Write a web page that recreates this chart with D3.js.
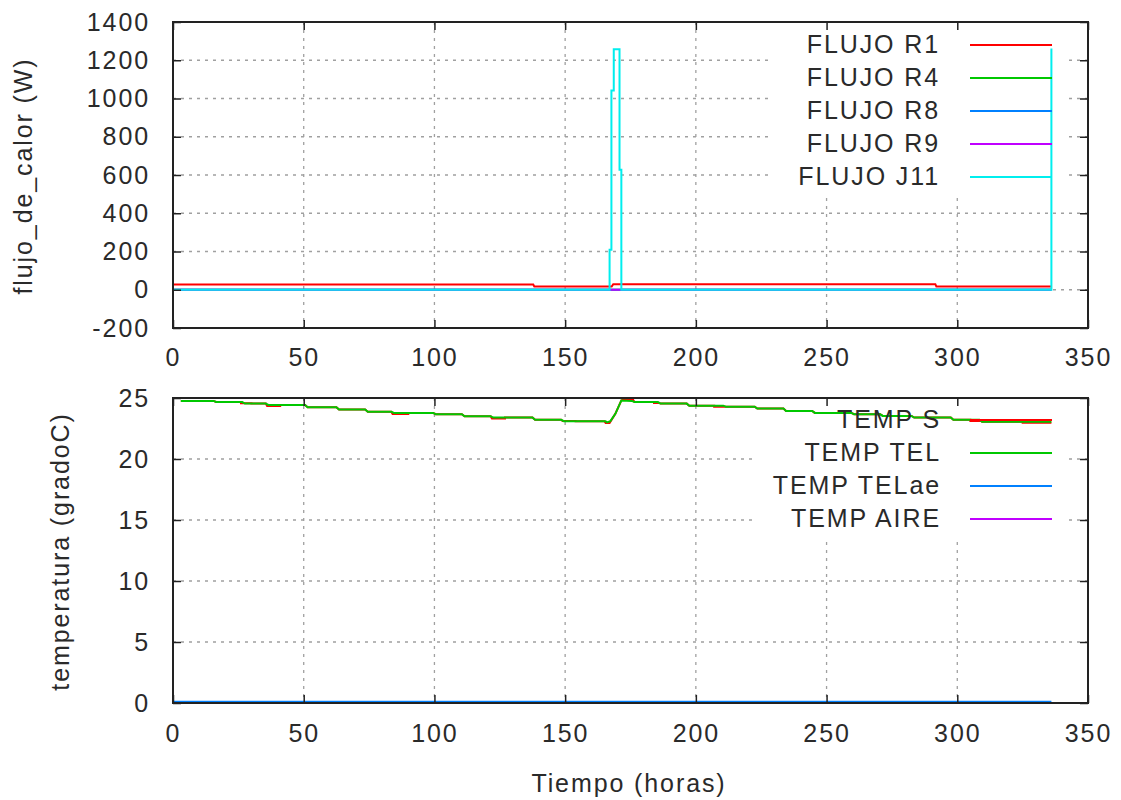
<!DOCTYPE html>
<html>
<head>
<meta charset="utf-8">
<script src="https://cdn.jsdelivr.net/npm/d3@7"></script>
<style>
body { margin: 0; background: #fff; }
text { font-family: "Liberation Sans", Arial, sans-serif; font-size: 25px; letter-spacing: 1.9px; fill: #2a2a2a; }
</style>
</head>
<body>
<svg></svg>
<script>
// x axis (hours) and tick labels
let xTicks = [0, 50, 100, 150, 200, 250, 300, 350];
let fluxTicks = [-200, 0, 200, 400, 600, 800, 1000, 1200, 1400];
let tempTicks = [0, 5, 10, 15, 20, 25];

// top panel: heat flux (W), pairs of [hour, value]
let fluxNames = ["FLUJO R1", "FLUJO R4", "FLUJO R8", "FLUJO R9", "FLUJO J11"];
let fluxR1 = [[0, 27], [137.8, 27], [138.2, 17], [167.8, 17], [168.4, 29], [291.6, 29], [292, 17], [336, 17]];
let fluxR4 = [[0, 0], [336, 0]];
let fluxR8 = [[0, 0], [336, 0]];
let fluxR9 = [[0, 0], [336, 0]];
let fluxJ11 = [[0, 0], [167.0, 0], [167.0, 209], [167.7, 209], [167.7, 1042], [168.6, 1042], [168.6, 1257],
    [170.8, 1257], [170.8, 628], [171.5, 628], [171.5, 0], [336, 0], [336, 1262]];

// bottom panel: temperatures (gradoC)
let tempNames = ["TEMP S", "TEMP TEL", "TEMP TELae", "TEMP AIRE"];
let tempS = [[3, 24.76], [15.5, 24.76], [16.5, 24.67], [26, 24.67], [26, 24.57], [30, 24.57], [30, 24.54], [35.5, 24.54],
    [36, 24.34], [41, 24.34], [41, 24.43], [50.5, 24.43], [51.5, 24.25], [62.5, 24.25], [63.5, 24.05], [73.5, 24.05],
    [74.5, 23.88], [83.5, 23.88], [84, 23.69], [90, 23.69], [90, 23.78], [99.5, 23.78], [100.5, 23.67], [110.5, 23.67],
    [111.5, 23.51], [121.5, 23.51], [122, 23.31], [127, 23.31], [127, 23.40], [137.5, 23.40], [138.5, 23.21], [148.5, 23.21],
    [149, 23.12], [154, 23.12], [154, 23.10], [165, 23.10], [165.5, 22.95], [167, 22.95], [169.2, 23.7], [171.5, 24.8],
    [172, 24.86], [176, 24.86], [176.5, 24.67], [184, 24.67], [184, 24.58], [186, 24.58], [186.5, 24.54], [196.5, 24.54],
    [197.5, 24.37], [207, 24.37], [207, 24.28], [211, 24.28], [211.5, 24.29], [222.5, 24.29], [223.5, 24.13], [233.5, 24.13],
    [234.5, 23.94], [244.5, 23.94], [245.5, 23.78], [255, 23.78], [255, 23.86], [259, 23.86], [259.5, 23.78], [260.5, 23.67],
    [270.5, 23.67], [271.5, 23.53], [282.5, 23.53], [283.5, 23.40], [297.5, 23.40], [298.5, 23.21], [305, 23.21],
    [305, 23.12], [309, 23.12], [309.5, 23.05], [325, 23.05], [325, 22.98], [336, 22.98]];
let tempTel = [[3, 24.76], [15.5, 24.76], [16.5, 24.67], [26.5, 24.67], [27.5, 24.54], [35.5, 24.54], [36.5, 24.43],
    [50.5, 24.43], [51.5, 24.25], [62.5, 24.25], [63.5, 24.05], [73.5, 24.05], [74.5, 23.88], [83.5, 23.88], [84.5, 23.78],
    [99.5, 23.78], [100.5, 23.67], [110.5, 23.67], [111.5, 23.51], [121.5, 23.51], [122.5, 23.40], [137.5, 23.40],
    [138.5, 23.21], [148.5, 23.21], [149.5, 23.10], [165.5, 23.10], [166, 23.0], [167.3, 23.1], [169.2, 23.7], [171.5, 24.8],
    [175.5, 24.76], [176.5, 24.67], [185.5, 24.67], [186.5, 24.54], [196.5, 24.54], [197.5, 24.37], [210.5, 24.37],
    [211.5, 24.29], [222.5, 24.29], [223.5, 24.13], [233.5, 24.13], [234.5, 23.94], [244.5, 23.94], [245.5, 23.78],
    [259.5, 23.78], [260.5, 23.67], [270.5, 23.67], [271.5, 23.53], [282.5, 23.53], [283.5, 23.40], [297.5, 23.40],
    [298.5, 23.21], [308.5, 23.21], [309.5, 23.05], [336, 23.05]];
let tempTelae = [[0, 0.1], [336, 0.1]];
let tempAire = [[0, 0], [336, 0]];

let colors = ["#ff0000", "#00c800", "#0080ff", "#c000ff", "#00eeee"];

let svg = d3.select("svg")
    .attr("width", 1121)
    .attr("height", 800);

svg.append("rect").attr("width", 1121).attr("height", 800).attr("fill", "#fff");

let x = d3.scaleLinear().domain([0, 350]).range([173, 1088]);
let plain = d => String(d); // gnuplot style: 1400, -200

function panel(opts) {
    let y = d3.scaleLinear().domain(opts.domain).range([opts.bottom, opts.top]);
    let g = svg.append("g");

    // dotted grid
    g.selectAll("line.vgrid").data(xTicks.slice(1, -1)).enter().append("line")
        .attr("x1", d => x(d)).attr("x2", d => x(d))
        .attr("y1", opts.top).attr("y2", opts.bottom);
    g.selectAll("line.hgrid").data(opts.yTicks.slice(1, -1)).enter().append("line")
        .attr("x1", x.range()[0]).attr("x2", x.range()[1])
        .attr("y1", d => y(d)).attr("y2", d => y(d));
    g.selectAll("line")
        .attr("stroke", "#a0a0a0")
        .attr("stroke-width", 1.3)
        .attr("stroke-dasharray", "3,5");

    // key area hides the grid
    g.append("rect")
        .attr("x", opts.keyBox[0]).attr("y", opts.top)
        .attr("width", opts.keyBox[1] - opts.keyBox[0])
        .attr("height", opts.keyBox[2] - opts.top)
        .attr("fill", "#fff");

    let line = d3.line().x(d => x(d[0])).y(d => y(d[1]));
    opts.series.forEach((s, i) => {
        g.append("path")
            .attr("d", line(s))
            .attr("fill", "none")
            .attr("stroke", colors[i])
            .attr("stroke-width", 2);
    });

    // border and inward ticks on every side
    g.append("rect")
        .attr("x", x.range()[0]).attr("y", opts.top)
        .attr("width", x.range()[1] - x.range()[0])
        .attr("height", opts.bottom - opts.top)
        .attr("fill", "none").attr("stroke", "#222").attr("stroke-width", 2);

    let axes = [
        [d3.axisBottom(x).tickValues(xTicks).tickSize(-8).tickPadding(opts.xPad).tickFormat(plain), "translate(0," + opts.bottom + ")"],
        [d3.axisTop(x).tickValues(xTicks).tickSize(-8).tickFormat(""), "translate(0," + opts.top + ")"],
        [d3.axisLeft(y).tickValues(opts.yTicks).tickSize(-8).tickPadding(23).tickFormat(plain), "translate(173,0)"],
        [d3.axisRight(y).tickValues(opts.yTicks).tickSize(-8).tickFormat(""), "translate(1088,0)"]
    ];
    axes.forEach(a => {
        let ag = g.append("g").attr("transform", a[1]).call(a[0]);
        ag.select(".domain").remove();
        ag.selectAll(".tick line").attr("stroke", "#222").attr("stroke-width", 1.5);
    });

    // key
    let key = g.selectAll("g.key").data(opts.names).enter().append("g")
        .attr("transform", (d, i) => "translate(0," + (opts.keyY + i * 33) + ")");
    key.append("text")
        .attr("x", opts.keyTextX).attr("dy", "0.33em")
        .attr("text-anchor", "end")
        .text(d => d);
    key.append("line")
        .attr("x1", 970).attr("x2", 1052)
        .attr("stroke", (d, i) => colors[i])
        .attr("stroke-width", 2);

    // axis title
    svg.append("text")
        .attr("transform", "translate(" + opts.titleX + "," + ((opts.top + opts.bottom) / 2 + 1) + ") rotate(-90)")
        .attr("text-anchor", "middle")
        .text(opts.title);
}

panel({
    domain: [-200, 1400], top: 22, bottom: 328, yTicks: fluxTicks, xPad: 20,
    series: [fluxR1, fluxR4, fluxR8, fluxR9, fluxJ11], names: fluxNames,
    keyBox: [770, 1065, 193], keyY: 45, keyTextX: 940,
    title: "flujo_de_calor (W)", titleX: 32
});

panel({
    domain: [0, 25], top: 398, bottom: 703, yTicks: tempTicks, xPad: 21,
    series: [tempS, tempTel, tempTelae, tempAire], names: tempNames,
    keyBox: [755, 1065, 537], keyY: 420, keyTextX: 941,
    title: "temperatura (gradoC)", titleX: 69
});

svg.append("text")
    .attr("x", 629).attr("y", 792)
    .attr("text-anchor", "middle")
    .text("Tiempo (horas)");
</script>
</body>
</html>
